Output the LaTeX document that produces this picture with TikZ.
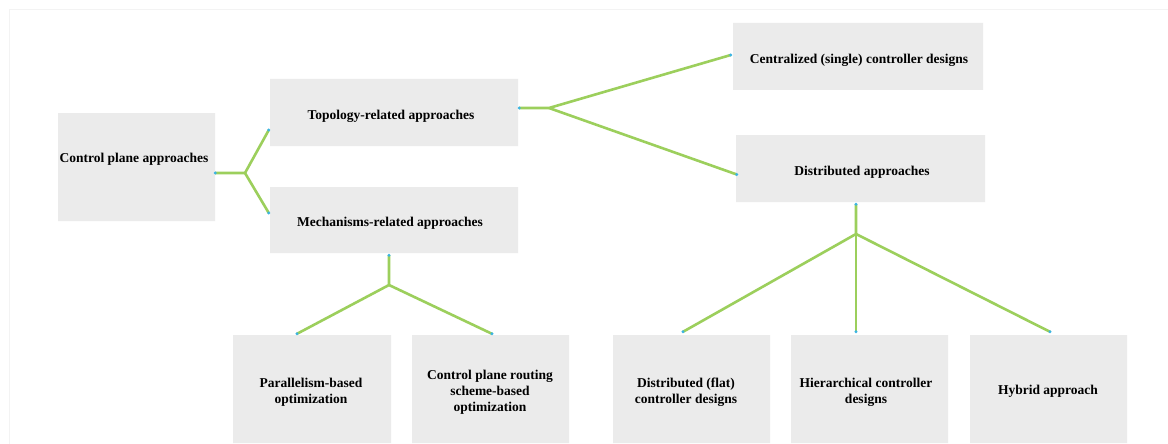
\documentclass[tikz,border=0pt]{standalone}
\usepackage{fontspec}
\setmainfont{Liberation Serif}
\usetikzlibrary{shapes.misc,calc}
\definecolor{boxgray}{HTML}{EBEBEB}
\definecolor{linegreen}{HTML}{9CCF5C}
\definecolor{dotblue}{HTML}{3AB4E4}
\definecolor{framegray}{HTML}{F3F3F3}
\tikzset{
  box/.style={chamfered rectangle, chamfered rectangle corners={north west,south east},
    chamfered rectangle xsep=3pt, chamfered rectangle ysep=3pt,
    fill=boxgray, draw=none, inner sep=0pt},
  lbl/.style={font=\fontsize{13.5}{16}\selectfont\bfseries, align=center, inner sep=0pt},
  conn/.style={draw=linegreen, line width=2.6pt, line join=miter},
  dot/.style={fill=dotblue, draw=none},
}
\newcommand{\mydot}[1]{\fill[dot] (#1) circle (1.6pt);}
\begin{document}
\begin{tikzpicture}[x=1pt,y=-1pt]
\useasboundingbox (0,0) rectangle (1168,444);
\fill[white] (0,0) rectangle (1168,444);
\draw[framegray, line width=1pt] (9,444) -- (9,10) -- (1168,10);
% boxes
\node[box, minimum width=157pt, minimum height=108pt] (root) at (136.5,167) {};
\node[lbl] (rootl) at (134,159) {Control plane approaches};
\node[box, minimum width=248pt, minimum height=67pt] (topo) at (394,112.5) {};
\node[lbl] (topol) at (391,116) {Topology-related approaches};
\node[box, minimum width=248pt, minimum height=66pt] (mech) at (394,220) {};
\node[lbl] (mechl) at (390,223) {Mechanisms-related approaches};
\node[box, minimum width=250pt, minimum height=67pt] (cent) at (858,56.5) {};
\node[lbl] (centl) at (859,60) {Centralized (single) controller designs};
\node[box, minimum width=249pt, minimum height=67pt] (dist) at (860.5,168.5) {};
\node[lbl] (distl) at (862,172) {Distributed approaches};
\node[box, minimum width=158pt, minimum height=108pt] (par) at (312,389) {};
\node[lbl] (parl) at (311,392) {Parallelism-based\\optimization};
\node[box, minimum width=157pt, minimum height=108pt] (cpr) at (490.5,389) {};
\node[lbl] (cprl) at (490,392) {Control plane routing\\scheme-based\\optimization};
\node[box, minimum width=157pt, minimum height=108pt] (dflat) at (691.5,389) {};
\node[lbl] (dflatl) at (686,392) {Distributed (flat)\\controller designs};
\node[box, minimum width=157pt, minimum height=108pt] (hier) at (869.5,389) {};
\node[lbl] (hierl) at (866,392) {Hierarchical controller\\designs};
\node[box, minimum width=157pt, minimum height=108pt] (hyb) at (1048.5,389) {};
\node[lbl] (hybl) at (1048,391) {Hybrid approach};
% junctions
\coordinate (j1) at (245,173);
\coordinate (j2) at (549,108);
\coordinate (j3) at (856,234);
\coordinate (j4) at (389,285);
% connector ends
\coordinate (r1) at ([yshift=-6pt]root.east);
\coordinate (t1) at ([xshift=-1pt,yshift=-17.5pt]topo.west);
\coordinate (m1) at ([xshift=-1pt,yshift=7pt]mech.west);
\coordinate (t2) at ([xshift=1pt,yshift=4.5pt]topo.east);
\coordinate (c1) at ([xshift=-2pt,yshift=1.5pt]cent.west);
\coordinate (d1) at ([xshift=1pt,yshift=-6pt]dist.west);
\coordinate (d2) at ([xshift=-4.5pt,yshift=-2pt]dist.south);
\coordinate (f1) at ([xshift=-8.5pt,yshift=3pt]dflat.north);
\coordinate (h1) at ([xshift=-13.5pt,yshift=3pt]hier.north);
\coordinate (y1) at ([xshift=1.5pt,yshift=3pt]hyb.north);
\coordinate (m2) at ([xshift=-5pt,yshift=-2pt]mech.south);
\coordinate (p1) at ([xshift=-15pt,yshift=1pt]par.north);
\coordinate (q1) at ([xshift=1.5pt,yshift=1pt]cpr.north);
% connectors
\draw[conn] (r1) -- (j1) -- (t1);
\draw[conn] (j1) -- (m1);
\draw[conn] (t2) -- (j2) -- (c1);
\draw[conn] (j2) -- (d1);
\draw[conn] (d2) -- (j3) -- (f1);
\draw[conn] (j3) -- (h1);
\draw[conn] (j3) -- (y1);
\draw[conn] (m2) -- (j4) -- (p1);
\draw[conn] (j4) -- (q1);
% dots
\mydot{r1}\mydot{t1}\mydot{m1}\mydot{t2}\mydot{c1}\mydot{d1}\mydot{d2}
\mydot{f1}\mydot{h1}\mydot{y1}\mydot{m2}\mydot{p1}\mydot{q1}
\end{tikzpicture}
\end{document}
